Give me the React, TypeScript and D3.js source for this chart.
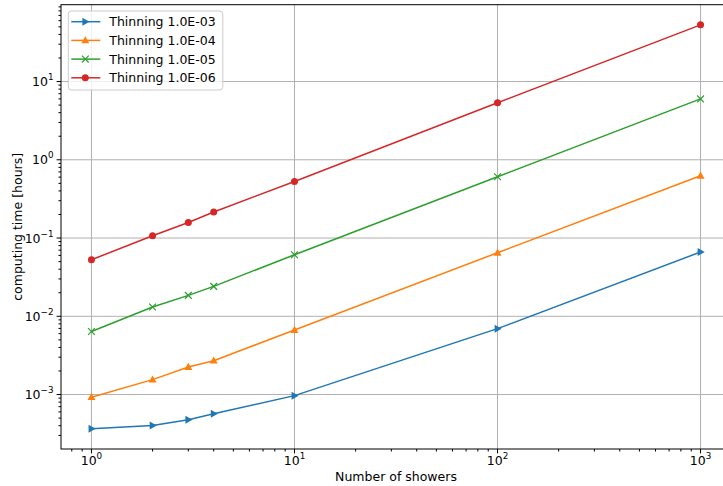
import React, { useEffect, useRef } from 'react';
import * as d3 from 'd3';

const showers = [1, 2, 3, 4, 10, 100, 1000];
const thin3 = [0.000365, 0.000403, 0.000475, 0.000567, 0.000968, 0.00695, 0.0663];
const thin4 = [0.000925, 0.00155, 0.00225, 0.00271, 0.00668, 0.0649, 0.625];
const thin5 = [0.0064, 0.01315, 0.0185, 0.0241, 0.0612, 0.607, 6.0];
const thin6 = [0.0528, 0.107, 0.158, 0.215, 0.528, 5.35, 53];
const seriesNames = ['Thinning 1.0E-03', 'Thinning 1.0E-04', 'Thinning 1.0E-05', 'Thinning 1.0E-06'];
const xTicks = [1, 10, 100, 1000];
const yTicks = [0.001, 0.01, 0.1, 1, 10];

const colors = ['#1f77b4', '#ff7f0e', '#2ca02c', '#d62728'];
const markers = ['tri-right', 'tri-up', 'x', 'circle'];

function drawMarker(g: any, kind: string, color: string) {
  if (kind === 'circle') {
    g.append('circle').attr('r', 3.5).attr('fill', color);
  } else if (kind === 'tri-up') {
    g.append('path').attr('d', 'M0,-4.2L4,2.9L-4,2.9Z').attr('fill', color);
  } else if (kind === 'tri-right') {
    g.append('path').attr('d', 'M4.2,0L-2.9,4L-2.9,-4Z').attr('fill', color);
  } else {
    g.append('path').attr('d', 'M-3.4,-3.4L3.4,3.4M-3.4,3.4L3.4,-3.4').attr('stroke', color).attr('stroke-width', 1.2).attr('fill', 'none');
  }
}

function App() {
  const ref = useRef<SVGSVGElement>(null);

  useEffect(() => {
    const svg = d3.select(ref.current);
    svg.selectAll('*').remove();
    const margin = { left: 61, right: 731, top: 4.7, bottom: 449 };
    const font = 'DejaVu Sans, sans-serif';
    const fs = 12.5;

    const x = d3.scaleLog().domain([Math.pow(10, -0.15), Math.pow(10, 3.15)]).range([margin.left, margin.right]);
    const y = d3.scaleLog().domain([Math.pow(10, -3.696), Math.pow(10, 1.982)]).range([margin.bottom, margin.top]);

    svg.append('rect').attr('width', 723).attr('height', 486).attr('fill', '#fff');

    // grid
    const grid = svg.append('g').attr('stroke', '#b0b0b0').attr('stroke-width', 1);
    xTicks.forEach(t => {
      grid.append('line').attr('x1', x(t)).attr('x2', x(t)).attr('y1', margin.top).attr('y2', margin.bottom);
    });
    yTicks.forEach(t => {
      grid.append('line').attr('y1', y(t)).attr('y2', y(t)).attr('x1', margin.left).attr('x2', margin.right);
    });

    // series
    const allData = [thin3, thin4, thin5, thin6];
    const line = d3.line<number>().x((d, i) => x(showers[i])).y(d => y(d));
    allData.forEach((vals, s) => {
      svg.append('path').datum(vals).attr('fill', 'none').attr('stroke', colors[s]).attr('stroke-width', 1.5).attr('d', line);
      vals.forEach((v, i) => {
        const g = svg.append('g').attr('transform', `translate(${x(showers[i])},${y(v)})`);
        drawMarker(g, markers[s], colors[s]);
      });
    });

    // spines
    svg.append('rect')
      .attr('x', margin.left).attr('y', margin.top)
      .attr('width', margin.right - margin.left).attr('height', margin.bottom - margin.top)
      .attr('fill', 'none').attr('stroke', '#000').attr('stroke-width', 1);

    // minor/major ticks
    const ticks = svg.append('g').attr('stroke', '#000').attr('stroke-width', 1);
    const [xd0, xd1] = x.domain();
    for (let e = -1; e <= 3; e++) {
      for (let m = 1; m <= 9; m++) {
        const v = m * Math.pow(10, e);
        if (v < xd0 || v > xd1) continue;
        const len = m === 1 ? 4.4 : 2.5;
        ticks.append('line').attr('x1', x(v)).attr('x2', x(v)).attr('y1', margin.bottom).attr('y2', margin.bottom + len);
      }
    }
    const [yd0, yd1] = y.domain();
    for (let e = -4; e <= 1; e++) {
      for (let m = 1; m <= 9; m++) {
        const v = m * Math.pow(10, e);
        if (v < yd0 || v > yd1) continue;
        const len = m === 1 ? 4.4 : 2.5;
        ticks.append('line').attr('y1', y(v)).attr('y2', y(v)).attr('x1', margin.left).attr('x2', margin.left - len);
      }
    }

    // tick labels
    xTicks.forEach(t => {
      const txt = svg.append('text').attr('x', x(t)).attr('y', margin.bottom + 16)
        .attr('text-anchor', 'middle').attr('font-family', font).attr('font-size', fs).attr('fill', '#000');
      txt.append('tspan').text('10');
      txt.append('tspan').attr('dy', -6).attr('font-size', 8.8).text(String(Math.round(Math.log10(t))));
    });
    yTicks.forEach(t => {
      const e = Math.round(Math.log10(t));
      const txt = svg.append('text').attr('x', margin.left - 7.5).attr('y', y(t) + 4.5)
        .attr('text-anchor', 'end').attr('font-family', font).attr('font-size', fs).attr('fill', '#000');
      txt.append('tspan').text('10');
      txt.append('tspan').attr('dy', -6).attr('font-size', 8.8).text(e < 0 ? '\u2212' + Math.abs(e) : String(e));
    });

    // axis labels
    svg.append('text').attr('x', (margin.left + margin.right) / 2).attr('y', 481)
      .attr('text-anchor', 'middle').attr('font-family', font).attr('font-size', fs).text('Number of showers');
    svg.append('text').attr('transform', `translate(21.5,${(margin.top + margin.bottom) / 2}) rotate(-90)`)
      .attr('text-anchor', 'middle').attr('font-family', font).attr('font-size', fs).text('computing time [hours]');

    // legend
    const lg = svg.append('g').attr('transform', 'translate(68.3,11)');
    lg.append('rect').attr('width', 154.5).attr('height', 79).attr('rx', 3)
      .attr('fill', '#fff').attr('fill-opacity', 0.8).attr('stroke', '#cccccc').attr('stroke-width', 1);
    seriesNames.forEach((name, s) => {
      const yy = 10.7 + s * 18.7;
      lg.append('line').attr('x1', 3).attr('x2', 32).attr('y1', yy).attr('y2', yy)
        .attr('stroke', colors[s]).attr('stroke-width', 1.5);
      const mg = lg.append('g').attr('transform', `translate(17,${yy})`);
      drawMarker(mg, markers[s], colors[s]);
      lg.append('text').attr('x', 41).attr('y', yy + 4.5).attr('font-family', font).attr('font-size', fs)
        .attr('fill', '#000').text(name);
    });
  });

  return (
    <div>
      <svg ref={ref} width="723" height="486" style={{ position: 'absolute', left: 0, top: 0 }} />
    </div>
  );
}

export default App;
